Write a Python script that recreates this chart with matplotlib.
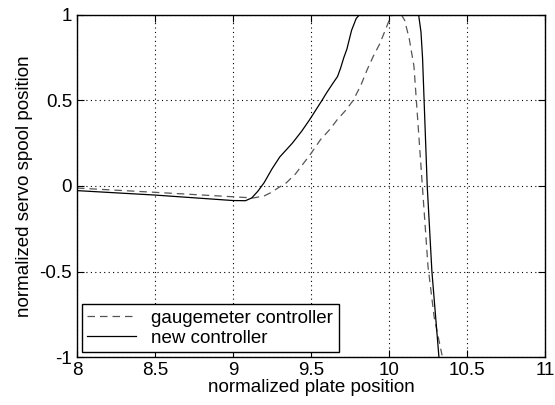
import matplotlib.pyplot as plt
import numpy as np

plt.rcParams['font.family'] = ['Liberation Sans', 'DejaVu Sans']

# gaugemeter controller (dashed)
x_gauge = [8.0, 8.5, 9.0, 9.13, 9.2, 9.24, 9.3, 9.34, 9.4, 9.45, 9.5, 9.56, 9.62, 9.67,
           9.72, 9.77, 9.82, 9.86, 9.9, 9.94, 9.98, 10.01, 10.05, 10.08, 10.10, 10.13,
           10.16, 10.19, 10.22, 10.25, 10.29, 10.34]
y_gauge = [-0.012, -0.037, -0.063, -0.07, -0.058, -0.04, -0.005, 0.017, 0.07, 0.13, 0.19,
           0.27, 0.33, 0.39, 0.44, 0.50, 0.59, 0.68, 0.76, 0.83, 0.92, 0.99, 1.02, 1.0,
           0.97, 0.86, 0.70, 0.31, -0.08, -0.47, -0.77, -0.99]

# new controller (solid)
x_new = [8.0, 8.5, 9.0, 9.08, 9.12, 9.16, 9.2, 9.25, 9.3, 9.38, 9.44, 9.49, 9.57, 9.60,
         9.64, 9.67, 9.69, 9.71, 9.73, 9.76, 9.79, 9.81, 10.19, 10.205, 10.215, 10.225,
         10.245, 10.275, 10.32, 10.34]
y_new = [-0.027, -0.053, -0.085, -0.086, -0.07, -0.03, 0.02, 0.10, 0.17, 0.25, 0.32,
         0.386, 0.50, 0.545, 0.60, 0.64, 0.69, 0.75, 0.80, 0.91, 0.98, 1.0, 1.0, 0.9,
         0.75, 0.5, 0.0, -0.5, -1.0, -1.2]

fig = plt.figure(figsize=(5.55, 4.05), dpi=100)
ax = fig.add_axes([0.1387, 0.1185, 0.8433, 0.8445])

ax.plot(x_gauge, y_gauge, '--', color='#555555', lw=0.9, dashes=(6, 4),
        label='gaugemeter controller')
ax.plot(x_new, y_new, '-', color='black', lw=0.9, label='new controller')

ax.set_xlim(8, 11)
ax.set_ylim(-1, 1)
ax.set_xticks([8, 8.5, 9, 9.5, 10, 10.5, 11])
ax.set_xticklabels(['8', '8.5', '9', '9.5', '10', '10.5', '11'])
ax.set_yticks([-1, -0.5, 0, 0.5, 1])
ax.set_yticklabels(['-1', '-0.5', '0', '0.5', '1'])
ax.tick_params(direction='in', top=True, right=True, labelsize=13.5, length=5)
ax.grid(True, color='black', linestyle=(0, (1, 3)), linewidth=0.8)
for s in ax.spines.values():
    s.set_linewidth(1.0)

ax.set_xlabel('normalized plate position', fontsize=13.5, labelpad=0)
ax.set_ylabel('normalized servo spool position', fontsize=13.5, labelpad=5)

leg = ax.legend(loc='lower left', fontsize=13.5, fancybox=False, framealpha=1,
                edgecolor='black', handlelength=2.6, borderaxespad=0.25,
                labelspacing=0.15, borderpad=0.3, handletextpad=0.8)
leg.get_frame().set_linewidth(1.0)

plt.savefig('out.png', dpi=100)
